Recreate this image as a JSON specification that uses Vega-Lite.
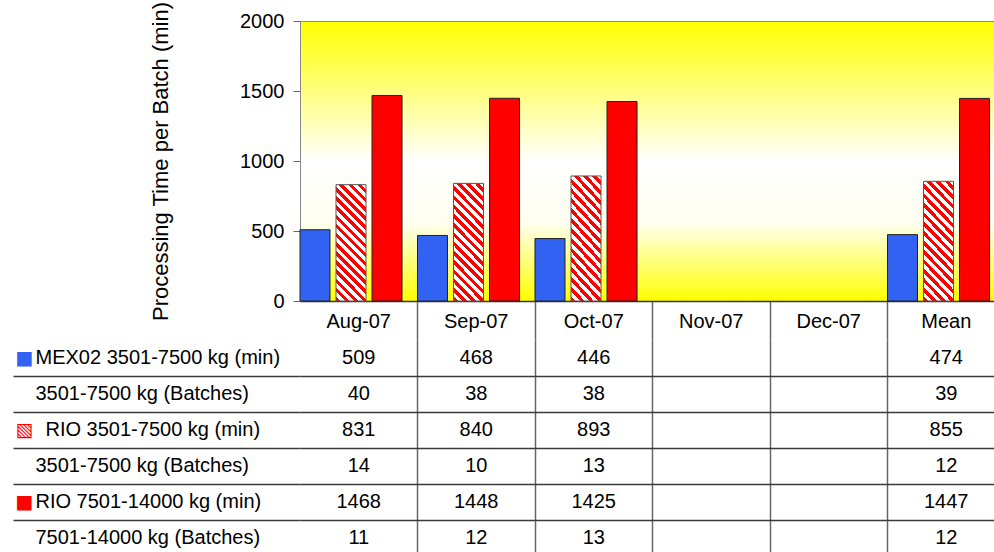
{
  "$schema": "https://vega.github.io/schema/vega-lite/v6.json",
  "padding": {"left": 12, "top": 0, "right": 0, "bottom": 0},
  "spacing": 39,
  "bounds": "flush",
  "config": {
    "font": "Liberation Sans",
    "view": {"stroke": null},
    "axis": {"labelFont": "Liberation Sans", "labelColor": "black", "titleFont": "Liberation Sans", "titleColor": "black", "titleFontWeight": "normal"},
    "text": {"font": "Liberation Sans"}
  },
  "datasets": {
    "bars": [
      {"month": "Aug-07", "series": "MEX02 3501-7500", "minutes": 509},
      {"month": "Aug-07", "series": "RIO 3501-7500", "minutes": 831},
      {"month": "Aug-07", "series": "RIO 7501-14000", "minutes": 1468},
      {"month": "Sep-07", "series": "MEX02 3501-7500", "minutes": 468},
      {"month": "Sep-07", "series": "RIO 3501-7500", "minutes": 840},
      {"month": "Sep-07", "series": "RIO 7501-14000", "minutes": 1448},
      {"month": "Oct-07", "series": "MEX02 3501-7500", "minutes": 446},
      {"month": "Oct-07", "series": "RIO 3501-7500", "minutes": 893},
      {"month": "Oct-07", "series": "RIO 7501-14000", "minutes": 1425},
      {"month": "Mean", "series": "MEX02 3501-7500", "minutes": 474},
      {"month": "Mean", "series": "RIO 3501-7500", "minutes": 855},
      {"month": "Mean", "series": "RIO 7501-14000", "minutes": 1447}
    ],
    "cells": [
      {"month": "Aug-07", "row": "r1", "value": 509},
      {"month": "Aug-07", "row": "r2", "value": 40},
      {"month": "Aug-07", "row": "r3", "value": 831},
      {"month": "Aug-07", "row": "r4", "value": 14},
      {"month": "Aug-07", "row": "r5", "value": 1468},
      {"month": "Aug-07", "row": "r6", "value": 11},
      {"month": "Sep-07", "row": "r1", "value": 468},
      {"month": "Sep-07", "row": "r2", "value": 38},
      {"month": "Sep-07", "row": "r3", "value": 840},
      {"month": "Sep-07", "row": "r4", "value": 10},
      {"month": "Sep-07", "row": "r5", "value": 1448},
      {"month": "Sep-07", "row": "r6", "value": 12},
      {"month": "Oct-07", "row": "r1", "value": 446},
      {"month": "Oct-07", "row": "r2", "value": 38},
      {"month": "Oct-07", "row": "r3", "value": 893},
      {"month": "Oct-07", "row": "r4", "value": 13},
      {"month": "Oct-07", "row": "r5", "value": 1425},
      {"month": "Oct-07", "row": "r6", "value": 13},
      {"month": "Mean", "row": "r1", "value": 474},
      {"month": "Mean", "row": "r2", "value": 39},
      {"month": "Mean", "row": "r3", "value": 855},
      {"month": "Mean", "row": "r4", "value": 12},
      {"month": "Mean", "row": "r5", "value": 1447},
      {"month": "Mean", "row": "r6", "value": 12}
    ]
  },
  "vconcat": [
    {
      "width": 705,
      "height": 280,
      "view": {
        "stroke": "#888",
        "fill": {"gradient": "linear", "x1": 0, "y1": 0, "x2": 0, "y2": 1,
          "stops": [
            {"offset": 0, "color": "#FFFF00"},
            {"offset": 0.5, "color": "#FFFFFF"},
            {"offset": 0.72, "color": "#FFFFF0"},
            {"offset": 1, "color": "#FFFF00"}
          ]}
      },
      "data": {"name": "bars"},
      "encoding": {
        "x": {
          "field": "month", "type": "nominal", "sort": null,
          "scale": {"domain": ["Aug-07", "Sep-07", "Oct-07", "Nov-07", "Dec-07", "Mean"], "paddingInner": 0, "paddingOuter": 0},
          "axis": {
            "title": null, "labelAngle": 0, "labelFontSize": 20, "labelPadding": -29,
            "bandPosition": 1, "tickSize": 39, "tickWidth": 1.5, "tickColor": "#666666",
            "domainColor": "#333333", "domainWidth": 1.5, "grid": false
          }
        },
        "xOffset": {
          "field": "series", "type": "nominal",
          "scale": {"domain": ["MEX02 3501-7500", "RIO 3501-7500", "RIO 7501-14000"], "paddingInner": 0.167, "paddingOuter": 0.215, "align": 0}
        },
        "y": {
          "field": "minutes", "type": "quantitative",
          "scale": {"domain": [0, 2000], "nice": false},
          "axis": {
            "title": "Processing Time per Batch (min)", "titleFontSize": 22, "titlePadding": 67,
            "values": [0, 500, 1000, 1500, 2000], "format": "d", "labelFontSize": 20, "labelPadding": 9,
            "tickSize": 7, "tickColor": "#666666", "domainColor": "#888888", "grid": false
          }
        }
      },
      "layer": [
        {
          "transform": [{"filter": "datum.series == 'MEX02 3501-7500'"}],
          "mark": {"type": "bar", "fill": "#3262F2", "stroke": "#222222", "strokeWidth": 1}
        },
        {
          "transform": [{"filter": "datum.series == 'RIO 3501-7500'"}],
          "mark": {"type": "bar", "stroke": "#555555", "strokeWidth": 1,
            "fill": {"gradient": "linear", "x1": 0, "y1": 1, "x2": 0.305, "y2": -0.18,
              "stops": [
                {"offset": 0, "color": "#FF0000"}, {"offset": 0.03125, "color": "#FF0000"}, {"offset": 0.03125, "color": "#FFFFFF"}, {"offset": 0.0625, "color": "#FFFFFF"},
                {"offset": 0.0625, "color": "#FF0000"}, {"offset": 0.09375, "color": "#FF0000"}, {"offset": 0.09375, "color": "#FFFFFF"}, {"offset": 0.125, "color": "#FFFFFF"},
                {"offset": 0.125, "color": "#FF0000"}, {"offset": 0.15625, "color": "#FF0000"}, {"offset": 0.15625, "color": "#FFFFFF"}, {"offset": 0.1875, "color": "#FFFFFF"},
                {"offset": 0.1875, "color": "#FF0000"}, {"offset": 0.21875, "color": "#FF0000"}, {"offset": 0.21875, "color": "#FFFFFF"}, {"offset": 0.25, "color": "#FFFFFF"},
                {"offset": 0.25, "color": "#FF0000"}, {"offset": 0.28125, "color": "#FF0000"}, {"offset": 0.28125, "color": "#FFFFFF"}, {"offset": 0.3125, "color": "#FFFFFF"},
                {"offset": 0.3125, "color": "#FF0000"}, {"offset": 0.34375, "color": "#FF0000"}, {"offset": 0.34375, "color": "#FFFFFF"}, {"offset": 0.375, "color": "#FFFFFF"},
                {"offset": 0.375, "color": "#FF0000"}, {"offset": 0.40625, "color": "#FF0000"}, {"offset": 0.40625, "color": "#FFFFFF"}, {"offset": 0.4375, "color": "#FFFFFF"},
                {"offset": 0.4375, "color": "#FF0000"}, {"offset": 0.46875, "color": "#FF0000"}, {"offset": 0.46875, "color": "#FFFFFF"}, {"offset": 0.5, "color": "#FFFFFF"},
                {"offset": 0.5, "color": "#FF0000"}, {"offset": 0.53125, "color": "#FF0000"}, {"offset": 0.53125, "color": "#FFFFFF"}, {"offset": 0.5625, "color": "#FFFFFF"},
                {"offset": 0.5625, "color": "#FF0000"}, {"offset": 0.59375, "color": "#FF0000"}, {"offset": 0.59375, "color": "#FFFFFF"}, {"offset": 0.625, "color": "#FFFFFF"},
                {"offset": 0.625, "color": "#FF0000"}, {"offset": 0.65625, "color": "#FF0000"}, {"offset": 0.65625, "color": "#FFFFFF"}, {"offset": 0.6875, "color": "#FFFFFF"},
                {"offset": 0.6875, "color": "#FF0000"}, {"offset": 0.71875, "color": "#FF0000"}, {"offset": 0.71875, "color": "#FFFFFF"}, {"offset": 0.75, "color": "#FFFFFF"},
                {"offset": 0.75, "color": "#FF0000"}, {"offset": 0.78125, "color": "#FF0000"}, {"offset": 0.78125, "color": "#FFFFFF"}, {"offset": 0.8125, "color": "#FFFFFF"},
                {"offset": 0.8125, "color": "#FF0000"}, {"offset": 0.84375, "color": "#FF0000"}, {"offset": 0.84375, "color": "#FFFFFF"}, {"offset": 0.875, "color": "#FFFFFF"},
                {"offset": 0.875, "color": "#FF0000"}, {"offset": 0.90625, "color": "#FF0000"}, {"offset": 0.90625, "color": "#FFFFFF"}, {"offset": 0.9375, "color": "#FFFFFF"},
                {"offset": 0.9375, "color": "#FF0000"}, {"offset": 0.96875, "color": "#FF0000"}, {"offset": 0.96875, "color": "#FFFFFF"}, {"offset": 1, "color": "#FFFFFF"}
              ]}
          }
        },
        {
          "transform": [{"filter": "datum.series == 'RIO 7501-14000'"}],
          "mark": {"type": "bar", "fill": "#FF0000", "stroke": "#222222", "strokeWidth": 1}
        }
      ]
    },
    {
      "width": 705,
      "height": 216,
      "data": {"name": "cells"},
      "encoding": {
        "x": {
          "field": "month", "type": "nominal", "sort": null,
          "scale": {"type": "band", "domain": ["Aug-07", "Sep-07", "Oct-07", "Nov-07", "Dec-07", "Mean"], "paddingInner": 0, "paddingOuter": 0},
          "axis": {
            "title": null, "labels": false, "ticks": false, "domain": false,
            "grid": true, "bandPosition": 1, "gridWidth": 1.5, "gridColor": "#666666"
          }
        },
        "y": {
          "field": "row", "type": "nominal", "sort": null,
          "scale": {"type": "band", "domain": ["r1", "r2", "r3", "r4", "r5", "r6"], "paddingInner": 0, "paddingOuter": 0},
          "axis": {
            "title": null, "domain": false, "labelAlign": "left", "labelPadding": -22, "labelFontSize": 20, "labelLimit": 0,
            "labelExpr": "{'r1': 'MEX02 3501-7500 kg (min)', 'r2': '3501-7500 kg (Batches)', 'r3': '\u200b\u2002RIO 3501-7500 kg (min)', 'r4': '3501-7500 kg (Batches)', 'r5': 'RIO 7501-14000 kg (min)', 'r6': '7501-14000 kg (Batches)'}[datum.value]",
            "bandPosition": 1, "tickSize": 287, "tickWidth": 1.5, "tickColor": "#3a3a3a",
            "grid": true, "gridWidth": 1.5, "gridColor": "#3a3a3a"
          }
        }
      },
      "layer": [
        {
          "mark": {"type": "text", "fontSize": 20, "color": "black"},
          "encoding": {
            "text": {"field": "value", "type": "nominal"}
          }
        },
        {
          "mark": {"type": "text", "fontSize": 1},
          "encoding": {
            "y": {
              "field": "row", "type": "nominal", "sort": null,
              "axis": {
                "orient": "left", "title": null, "domain": false, "ticks": false, "grid": false,
                "labelAlign": "left", "labelPadding": 285, "labelFont": "DejaVu Sans", "labelFontSize": 19,
                "labelExpr": "datum.value == 'r1' || datum.value == 'r5' ? '■' : datum.value == 'r3' ? '▧' : ''",
                "labelColor": {"condition": {"test": "datum.value == 'r1'", "value": "#3262F2"}, "value": "#FF0000"}
              }
            },
            "text": {"value": ""}
          }
        }
      ],
      "resolve": {"axis": {"y": "independent"}}
    }
  ]
}
